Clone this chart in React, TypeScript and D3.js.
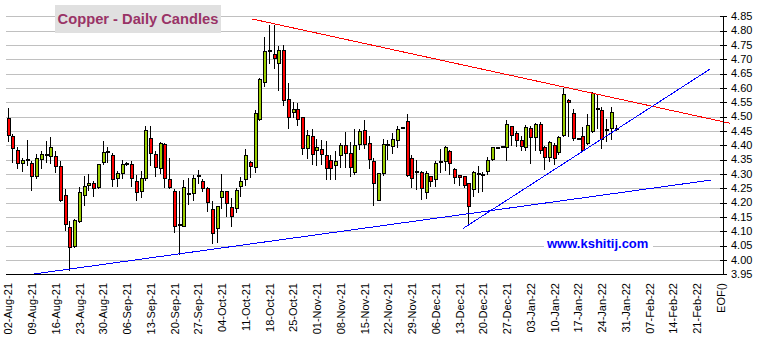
import * as d3 from 'd3';

const TITLE = 'Copper - Daily Candles';
const WATERMARK = 'www.kshitij.com';

// one label every 5 trading days; the last slot is the end-of-file marker
const weekLabels = [
  '02-Aug-21', '09-Aug-21', '16-Aug-21', '23-Aug-21', '30-Aug-21',
  '06-Sep-21', '13-Sep-21', '20-Sep-21', '27-Sep-21',
  '04-Oct-21', '11-Oct-21', '18-Oct-21', '25-Oct-21',
  '01-Nov-21', '08-Nov-21', '15-Nov-21', '22-Nov-21', '29-Nov-21',
  '06-Dec-21', '13-Dec-21', '20-Dec-21', '27-Dec-21',
  '03-Jan-22', '10-Jan-22', '17-Jan-22', '24-Jan-22', '31-Jan-22',
  '07-Feb-22', '14-Feb-22', '21-Feb-22', 'EOF()',
];

// daily OHLC, trading day index 0 = 02-Aug-21
const opens = [
  4.495, 4.431, 4.384, 4.338, 4.350, 4.338, 4.294, 4.352, 4.367, 4.364,
  4.364, 4.329, 4.228, 4.116, 4.048, 4.135, 4.228, 4.262, 4.269, 4.255,
  4.342, 4.380, 4.366, 4.286, 4.303, 4.337, 4.335, 4.277, 4.240, 4.286,
  4.426, 4.370, 4.321, 4.405, 4.283, 4.242, 4.127, 4.117, 4.231, 4.234,
  4.293, 4.276, 4.251, 4.178, 4.112, 4.220, 4.240, 4.185, 4.181, 4.257,
  4.283, 4.341, 4.324, 4.493, 4.621, 4.729, 4.717, 4.688, 4.734, 4.563,
  4.516, 4.528, 4.497, 4.392, 4.433, 4.383, 4.388, 4.367, 4.350, 4.330,
  4.365, 4.400, 4.374, 4.307, 4.406, 4.455, 4.409, 4.344, 4.210, 4.305,
  4.401, 4.397, 4.420, 4.462, 4.486, 4.356, 4.310, 4.307, 4.237, 4.292,
  4.283, 4.344, 4.344, 4.381, 4.317, 4.297, 4.292, 4.269, 4.248, 4.301,
  4.300, 4.309, 4.352, 4.394, 4.397, 4.394, 4.466, 4.443, 4.420, 4.393,
  4.460, 4.429, 4.476, 4.394, 4.359, 4.402, 4.377, 4.437, 4.559, 4.513,
  4.426, 4.434, 4.408, 4.451, 4.530, 4.522, 4.457, 4.460, 4.460,
];
const highs = [
  4.534, 4.443, 4.399, 4.359, 4.422, 4.347, 4.373, 4.383, 4.420, 4.434,
  4.385, 4.347, 4.251, 4.138, 4.147, 4.259, 4.298, 4.303, 4.278, 4.338,
  4.420, 4.397, 4.376, 4.313, 4.353, 4.345, 4.350, 4.300, 4.315, 4.472,
  4.472, 4.385, 4.414, 4.410, 4.359, 4.250, 4.245, 4.283, 4.290, 4.301,
  4.317, 4.287, 4.259, 4.210, 4.190, 4.303, 4.245, 4.220, 4.255, 4.292,
  4.390, 4.348, 4.528, 4.638, 4.780, 4.824, 4.824, 4.751, 4.755, 4.621,
  4.555, 4.551, 4.499, 4.458, 4.462, 4.427, 4.423, 4.417, 4.371, 4.383,
  4.412, 4.450, 4.415, 4.462, 4.462, 4.490, 4.435, 4.359, 4.307, 4.426,
  4.423, 4.446, 4.470, 4.465, 4.513, 4.371, 4.353, 4.315, 4.313, 4.298,
  4.350, 4.391, 4.400, 4.387, 4.324, 4.300, 4.298, 4.271, 4.315, 4.333,
  4.310, 4.362, 4.397, 4.396, 4.399, 4.492, 4.472, 4.455, 4.437, 4.476,
  4.472, 4.480, 4.484, 4.402, 4.420, 4.410, 4.437, 4.603, 4.565, 4.530,
  4.429, 4.466, 4.513, 4.588, 4.580, 4.538, 4.495, 4.538, 4.474,
];
const lows = [
  4.414, 4.341, 4.321, 4.309, 4.333, 4.245, 4.286, 4.321, 4.341, 4.338,
  4.306, 4.205, 4.106, 3.966, 4.044, 4.131, 4.193, 4.243, 4.222, 4.251,
  4.336, 4.341, 4.259, 4.257, 4.285, 4.330, 4.257, 4.208, 4.220, 4.278,
  4.333, 4.292, 4.303, 4.255, 4.250, 4.097, 4.022, 4.117, 4.196, 4.208,
  4.269, 4.240, 4.170, 4.059, 4.062, 4.181, 4.155, 4.117, 4.166, 4.224,
  4.262, 4.290, 4.307, 4.487, 4.606, 4.687, 4.671, 4.594, 4.540, 4.462,
  4.499, 4.470, 4.369, 4.354, 4.336, 4.330, 4.334, 4.284, 4.284, 4.284,
  4.324, 4.324, 4.292, 4.301, 4.388, 4.391, 4.322, 4.193, 4.208, 4.295,
  4.353, 4.373, 4.394, 4.460, 4.292, 4.255, 4.249, 4.212, 4.217, 4.259,
  4.259, 4.306, 4.313, 4.301, 4.269, 4.260, 4.255, 4.126, 4.224, 4.236,
  4.240, 4.300, 4.350, 4.392, 4.395, 4.348, 4.402, 4.397, 4.383, 4.385,
  4.338, 4.383, 4.373, 4.317, 4.344, 4.336, 4.371, 4.431, 4.431, 4.417,
  4.423, 4.383, 4.405, 4.445, 4.460, 4.391, 4.414, 4.422, 4.452,
];
const closes = [
  4.437, 4.391, 4.338, 4.350, 4.352, 4.292, 4.356, 4.371, 4.369, 4.394,
  4.329, 4.208, 4.127, 4.045, 4.141, 4.237, 4.259, 4.269, 4.251, 4.335,
  4.378, 4.381, 4.283, 4.303, 4.335, 4.338, 4.286, 4.237, 4.286, 4.455,
  4.373, 4.324, 4.408, 4.286, 4.253, 4.120, 4.125, 4.255, 4.233, 4.286,
  4.295, 4.251, 4.201, 4.094, 4.187, 4.241, 4.199, 4.155, 4.245, 4.277,
  4.367, 4.328, 4.514, 4.630, 4.728, 4.731, 4.705, 4.734, 4.559, 4.499,
  4.528, 4.490, 4.392, 4.437, 4.371, 4.394, 4.369, 4.322, 4.322, 4.345,
  4.400, 4.374, 4.324, 4.400, 4.449, 4.406, 4.353, 4.270, 4.305, 4.406,
  4.403, 4.423, 4.458, 4.463, 4.295, 4.286, 4.312, 4.251, 4.303, 4.274,
  4.338, 4.345, 4.394, 4.338, 4.290, 4.291, 4.260, 4.187, 4.306, 4.302,
  4.301, 4.350, 4.393, 4.395, 4.398, 4.474, 4.437, 4.417, 4.397, 4.464,
  4.429, 4.476, 4.385, 4.359, 4.412, 4.356, 4.429, 4.580, 4.550, 4.426,
  4.425, 4.385, 4.472, 4.583, 4.531, 4.422, 4.456, 4.516, 4.461,
];

// hand-drawn trendlines: [start index, start price, end index, end price]
const resistanceLine = [51.2, 4.841, 151.9, 4.477];
const risingSupport = [95.7, 4.11, 147.7, 4.666];
const longSupport = [4.9, 3.95, 148.0, 4.279];

const WIDTH = 758;
const HEIGHT = 340;
const PLOT = { left: 6, right: 723, top: 16.3, bottom: 274.3 };
const FONT = "Arial, 'Liberation Sans', sans-serif";

export default function App() {
  const x = d3.scaleLinear().domain([0, 150]).range([8.5, 721]);
  const y = d3.scaleLinear().domain([3.95, 4.85]).range([PLOT.bottom, PLOT.top]);
  const priceTicks = d3.range(0, 19).map(i => +(3.95 + i * 0.05).toFixed(2));
  const py = (v: number) => Math.round(y(v)) + 0.5;

  const trend = (t: number[], color: string) => (
    <line
      x1={x(t[0])}
      y1={y(t[1])}
      x2={x(t[2])}
      y2={y(t[3])}
      stroke={color}
      strokeWidth={1}
      shapeRendering="crispEdges"
    />
  );

  return (
    <svg
      width={WIDTH}
      height={HEIGHT}
      style={{ position: 'absolute', left: 0, top: 0, background: '#ffffff' }}
      fontFamily={FONT}
    >
      <rect x={0} y={0} width={WIDTH} height={HEIGHT} fill="#ffffff" />

      {/* gridlines */}
      {priceTicks.slice(1).map(v => (
        <line
          key={v}
          x1={PLOT.left}
          x2={PLOT.right}
          y1={py(v)}
          y2={py(v)}
          stroke="#c0c0c0"
          shapeRendering="crispEdges"
        />
      ))}

      {/* title box */}
      <rect x={55} y={5} width={166} height={28} fill="#e0e0e0" />
      <text x={138} y={24} textAnchor="middle" fontSize="14.7px" fontWeight="bold" fill="#993366">
        {TITLE}
      </text>

      {/* watermark */}
      <rect x={544} y={237} width={109} height={14} fill="#ffffff" />
      <text x={547} y={248} fontSize="13px" fontWeight="bold" fill="#0000ff">
        {WATERMARK}
      </text>

      {/* candles */}
      {opens.map((o, i) => {
        const c = closes[i];
        const cx = Math.round(x(i));
        const top = py(Math.max(o, c));
        const bot = py(Math.min(o, c));
        return (
          <g key={i} shapeRendering="crispEdges">
            <line x1={cx - 0.5} x2={cx - 0.5} y1={py(highs[i])} y2={py(lows[i])} stroke="#000000" />
            <rect
              x={cx - 1.5}
              y={top}
              width={3}
              height={Math.max(1, bot - top)}
              fill={c >= o ? '#99cc00' : '#ff0000'}
              stroke="#000000"
              strokeWidth={1}
            />
          </g>
        );
      })}

      {/* trendlines */}
      {trend(resistanceLine, '#ff0000')}
      {trend(risingSupport, '#0000ff')}
      {trend(longSupport, '#0000ff')}

      {/* axes */}
      <line
        x1={PLOT.left}
        x2={PLOT.right}
        y1={py(3.95)}
        y2={py(3.95)}
        stroke="#000000"
        shapeRendering="crispEdges"
      />
      <line
        x1={PLOT.right + 0.5}
        x2={PLOT.right + 0.5}
        y1={py(4.85)}
        y2={py(3.95)}
        stroke="#000000"
        shapeRendering="crispEdges"
      />
      {priceTicks.map(v => (
        <g key={v}>
          <line
            x1={PLOT.right - 3}
            x2={PLOT.right + 4}
            y1={py(v)}
            y2={py(v)}
            stroke="#000000"
            shapeRendering="crispEdges"
          />
          <text x={731} y={y(v)} dy="0.35em" fontSize="11px" fill="#000000">
            {v.toFixed(2)}
          </text>
        </g>
      ))}
      {weekLabels.map((label, k) => {
        const lx = x(k * 5);
        return (
          <text
            key={label}
            transform={`translate(${lx}, 283) rotate(-90)`}
            dy="0.35em"
            textAnchor="end"
            fontSize="11px"
            fill="#000000"
          >
            {label}
          </text>
        );
      })}
    </svg>
  );
}
